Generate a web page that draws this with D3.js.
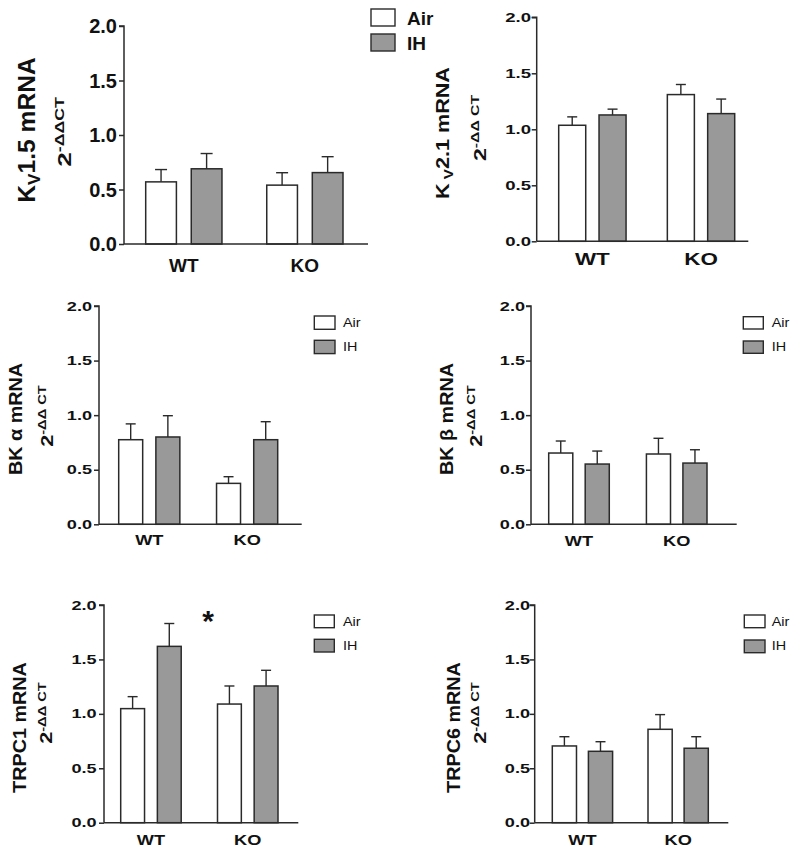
<!DOCTYPE html>
<html><head><meta charset="utf-8">
<script src="https://cdn.jsdelivr.net/npm/d3@7"></script>
<style>body{margin:0;background:#fff}svg{display:block}text{font-family:"Liberation Sans",Arial,sans-serif;fill:#111}</style>
</head><body>
<script>
// ---- data ----
const categories = ["WT", "KO"];
const series = ["Air", "IH"];
const yTicks = [0, 0.5, 1.0, 1.5, 2.0];
// order of values: WT-Air, WT-IH, KO-Air, KO-IH
const kv15Mean  = [0.57, 0.69, 0.54, 0.655];
const kv15Err   = [0.113, 0.14, 0.114, 0.146];
const kv21Mean  = [1.036, 1.128, 1.31, 1.14];
const kv21Err   = [0.075, 0.052, 0.09, 0.13];
const bkaMean   = [0.775, 0.80, 0.375, 0.775];
const bkaErr    = [0.145, 0.195, 0.061, 0.165];
const bkbMean   = [0.653, 0.552, 0.644, 0.561];
const bkbErr    = [0.11, 0.119, 0.144, 0.122];
const trpc1Mean = [1.048, 1.62, 1.09, 1.256];
const trpc1Err  = [0.11, 0.21, 0.166, 0.144];
const trpc6Mean = [0.705, 0.656, 0.858, 0.684];
const trpc6Err  = [0.085, 0.088, 0.135, 0.106];
const seriesFill = ["#ffffff", "#999999"];

// ---- layout ----
const W = 800, H = 854, ink = "#2a2a2a";
const svg = d3.select("body").append("svg").attr("width", W).attr("height", H);

const panels = [
  {mean: kv15Mean, err: kv15Err, ax0: 124, ax1: 368, bx0: 145.7, bx1: 343, yB: 244, yT: 26, gp: 0.37, sp: 0.326,
   tickFs: 20, tickSx: 1.0, tickEnd: 117, xFs: 19, xSx: 1.0, xBase: 271.5, capW: 12,
   l1: {parts: [["K", 0], ["V", 1], ["1.5 mRNA", 0]], cx: 27, cy: 130, fs: 23, s: 1.07},
   l2: {cx: 65, cy: 132, fs: 18, sup: "-ΔΔCT", s: 1.45},
   leg: {x: 371, bw: 24, bh: 17, y: [9, 34], tx: 407, base: [25, 50], fs: 19, bold: true, sx: 1.0}},
  {mean: kv21Mean, err: kv21Err, ax0: 536.7, ax1: 748.3, bx0: 558.7, bx1: 734.7, yB: 241.3, yT: 17.3, gp: 0.38, sp: 0.33,
   tickFs: 12, tickSx: 1.55, tickEnd: 531, xFs: 16, xSx: 1.4, xBase: 265, capW: 10,
   l1: {parts: [["K", 0], [" V", 1], ["2.1 mRNA", 0]], cx: 443, cy: 133, fs: 18, s: 1.2},
   l2: {cx: 480, cy: 128, fs: 16, sup: "-ΔΔ CT", s: 1.45}},
  {mean: bkaMean, err: bkaErr, ax0: 99, ax1: 301.7, bx0: 118.7, bx1: 277.7, yB: 524.3, yT: 306, gp: 0.375, sp: 0.355,
   tickFs: 12.5, tickSx: 1.45, tickEnd: 92, xFs: 14, xSx: 1.3, xBase: 545, capW: 10,
   l1: {parts: [["BK α  mRNA", 0]], cx: 16, cy: 419, fs: 18, s: 1.1},
   l2: {cx: 47, cy: 416, fs: 16, sup: "-ΔΔ CT", s: 1.35},
   leg: {x: 314.3, bw: 20.7, bh: 13.3, y: [316, 340.3], tx: 343, base: [327, 350.5], fs: 12, bold: false, sx: 1.2}},
  {mean: bkbMean, err: bkbErr, ax0: 531, ax1: 736.7, bx0: 548.7, bx1: 707, yB: 524.3, yT: 306, gp: 0.38, sp: 0.34,
   tickFs: 12.5, tickSx: 1.45, tickEnd: 525, xFs: 14, xSx: 1.3, xBase: 546, capW: 10,
   l1: {parts: [["BK β  mRNA", 0]], cx: 446.7, cy: 419, fs: 18, s: 1.1},
   l2: {cx: 476, cy: 416, fs: 16, sup: "-ΔΔ CT", s: 1.35},
   leg: {x: 743.3, bw: 20, bh: 12.3, y: [316.7, 341], tx: 771.7, base: [327, 350.5], fs: 12, bold: false, sx: 1.2}},
  {mean: trpc1Mean, err: trpc1Err, ax0: 104, ax1: 298.3, bx0: 120.7, bx1: 278, yB: 822.7, yT: 605, gp: 0.375, sp: 0.35,
   tickFs: 12.5, tickSx: 1.45, tickEnd: 96.7, xFs: 14, xSx: 1.3, xBase: 845, capW: 10,
   l1: {parts: [["TRPC1 mRNA", 0]], cx: 20, cy: 727.5, fs: 18, s: 1.1},
   l2: {cx: 46.7, cy: 713, fs: 16, sup: "-ΔΔ CT", s: 1.35},
   leg: {x: 314.3, bw: 20, bh: 12.7, y: [615, 639.3], tx: 343, base: [625.5, 649.5], fs: 12, bold: false, sx: 1.2},
   star: {x: 208, y: 617}},
  {mean: trpc6Mean, err: trpc6Err, ax0: 534.7, ax1: 728.3, bx0: 552.3, bx1: 708.3, yB: 822.7, yT: 605, gp: 0.37, sp: 0.33,
   tickFs: 12.5, tickSx: 1.45, tickEnd: 530, xFs: 14, xSx: 1.3, xBase: 845, capW: 10,
   l1: {parts: [["TRPC6 mRNA", 0]], cx: 453.3, cy: 727.5, fs: 18, s: 1.1},
   l2: {cx: 480, cy: 713, fs: 16, sup: "-ΔΔ CT", s: 1.35},
   leg: {x: 744.3, bw: 20.7, bh: 12.7, y: [615, 640], tx: 771.7, base: [625.5, 649.5], fs: 12, bold: false, sx: 1.2}}
];

function stretchedText(g, x, y, str, fs, sx, anchor, bold) {
  return g.append("text")
    .attr("transform", `translate(${x},${y}) scale(${sx},1)`)
    .attr("text-anchor", anchor)
    .attr("font-size", fs)
    .attr("font-weight", bold ? "bold" : "normal")
    .text(str);
}

panels.forEach(p => {
  const g = svg.append("g");
  const y = d3.scaleLinear().domain([0, 2]).range([p.yB, p.yT]);
  const xg = d3.scaleBand().domain(categories).range([p.bx0, p.bx1]).paddingInner(p.gp).paddingOuter(0);
  const xs = d3.scaleBand().domain(series).range([0, xg.bandwidth()]).paddingInner(p.sp).paddingOuter(0);

  const rows = [];
  categories.forEach((c, ci) => series.forEach((s, si) => {
    const k = ci * 2 + si;
    rows.push({c, s, si, v: p.mean[k], e: p.err[k]});
  }));

  // error bars (upper only)
  const eb = g.selectAll(".eb").data(rows).enter().append("g");
  eb.append("line")
    .attr("x1", d => xg(d.c) + xs(d.s) + xs.bandwidth() / 2)
    .attr("x2", d => xg(d.c) + xs(d.s) + xs.bandwidth() / 2)
    .attr("y1", d => y(d.v)).attr("y2", d => y(d.v + d.e))
    .attr("stroke", ink).attr("stroke-width", 1.4);
  eb.append("line")
    .attr("x1", d => xg(d.c) + xs(d.s) + xs.bandwidth() / 2 - p.capW / 2)
    .attr("x2", d => xg(d.c) + xs(d.s) + xs.bandwidth() / 2 + p.capW / 2)
    .attr("y1", d => y(d.v + d.e)).attr("y2", d => y(d.v + d.e))
    .attr("stroke", ink).attr("stroke-width", 1.4);

  // bars
  g.selectAll(".bar").data(rows).enter().append("rect")
    .attr("x", d => xg(d.c) + xs(d.s))
    .attr("width", xs.bandwidth())
    .attr("y", d => y(d.v))
    .attr("height", d => y(0) - y(d.v))
    .attr("fill", d => seriesFill[d.si])
    .attr("stroke", ink).attr("stroke-width", 1.5);

  // y axis
  const ya = g.append("g").attr("transform", `translate(${p.ax0},0)`)
    .call(d3.axisLeft(y).tickValues(yTicks).tickSize(5).tickFormat(""));
  ya.select(".domain").attr("stroke", ink).attr("stroke-width", 1.5).attr("d", `M-5,${p.yT}H0V${p.yB}`);
  ya.selectAll(".tick line").attr("stroke", ink).attr("stroke-width", 1.5);
  yTicks.forEach(t => {
    stretchedText(g, p.tickEnd, y(t) + p.tickFs * 0.36, d3.format(".1f")(t), p.tickFs, p.tickSx, "end", true);
  });

  // x axis
  g.append("line").attr("x1", p.ax0).attr("x2", p.ax1).attr("y1", y(0)).attr("y2", y(0))
    .attr("stroke", ink).attr("stroke-width", 1.5);
  categories.forEach(c => {
    stretchedText(g, xg(c) + xg.bandwidth() / 2, p.xBase, c, p.xFs, p.xSx, "middle", true);
  });

  // y labels
  const l1 = g.append("g").attr("transform", `translate(${p.l1.cx},${p.l1.cy}) rotate(-90)`)
    .append("text").attr("transform", `scale(${p.l1.s},1)`)
    .attr("text-anchor", "middle").attr("font-weight", "bold").attr("font-size", p.l1.fs)
    .attr("y", p.l1.fs * 0.36);
  p.l1.parts.forEach(([t, sub]) => {
    const ts = l1.append("tspan").text(t);
    if (sub) ts.attr("font-size", p.l1.fs * 0.7).attr("dy", p.l1.fs * 0.22);
    else if (sub === 0 && l1.selectAll("tspan").size() > 1) ts.attr("dy", -p.l1.fs * 0.22);
  });
  const l2 = g.append("g").attr("transform", `translate(${p.l2.cx},${p.l2.cy}) rotate(-90)`)
    .append("text").attr("transform", `scale(${p.l2.s},1)`)
    .attr("text-anchor", "middle").attr("font-weight", "bold").attr("font-size", p.l2.fs)
    .attr("y", p.l2.fs * 0.36);
  l2.append("tspan").text("2");
  l2.append("tspan").text(p.l2.sup).attr("font-size", p.l2.fs * 0.68).attr("dy", -p.l2.fs * 0.42);

  // legend
  if (p.leg) {
    series.forEach((s, i) => {
      g.append("rect").attr("x", p.leg.x).attr("y", p.leg.y[i]).attr("width", p.leg.bw).attr("height", p.leg.bh)
        .attr("fill", seriesFill[i]).attr("stroke", ink).attr("stroke-width", 1.4);
      stretchedText(g, p.leg.tx, p.leg.base[i], s, p.leg.fs, p.leg.sx, "start", p.leg.bold);
    });
  }
  if (p.star) {
    g.append("text").attr("x", p.star.x).attr("y", p.star.y + 14).attr("text-anchor", "middle")
      .attr("font-size", 30).attr("font-weight", "bold").text("*");
  }
});
</script>
</body></html>
